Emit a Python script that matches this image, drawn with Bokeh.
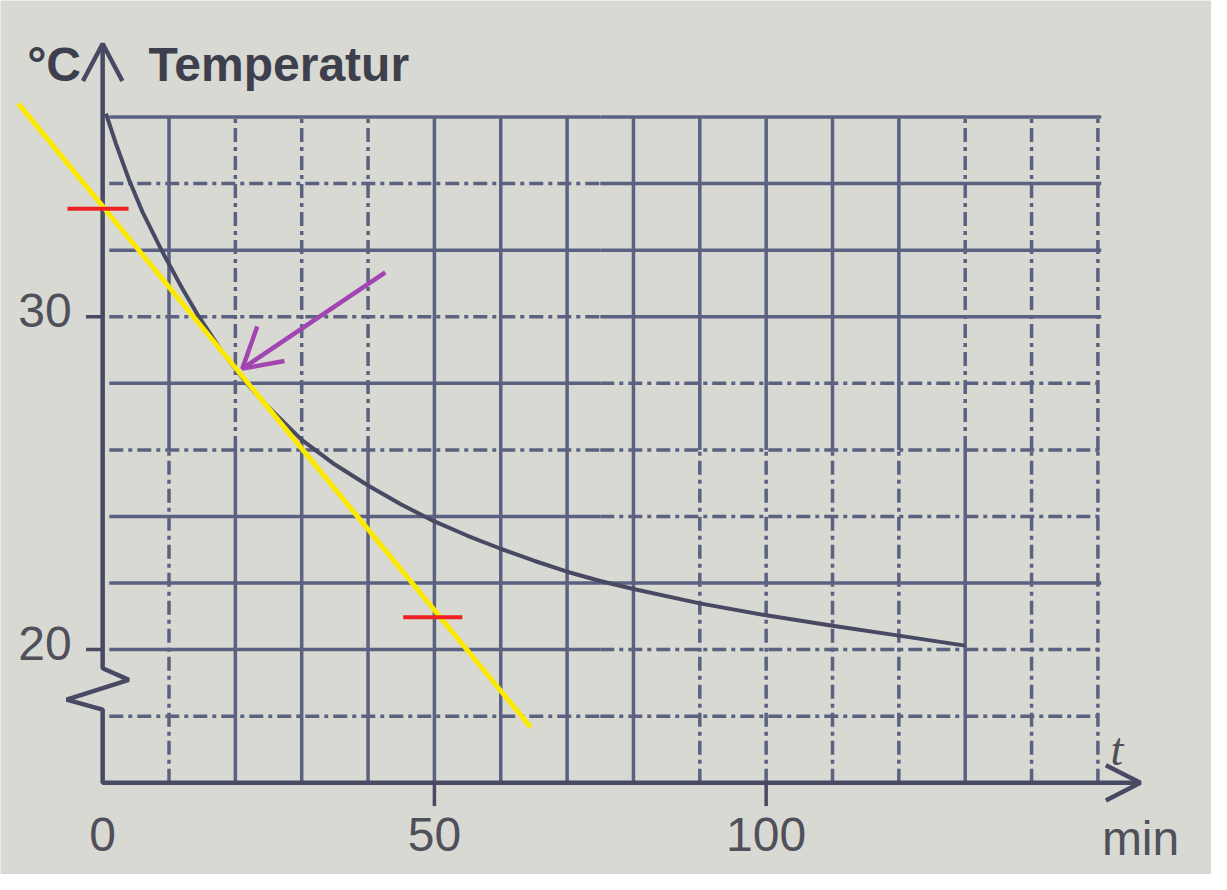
from bokeh.plotting import figure
from bokeh.models import Range1d
from bokeh.embed import file_html
from bokeh.resources import INLINE
from bokeh.core.properties import value

# ---------------- data ----------------
time_min = [0.5, 2, 4, 6, 9, 12, 14.5, 18, 21.5, 25, 30, 35, 40, 45, 50, 55,
            60, 65, 70, 75, 80, 90, 100, 110, 120, 130]
temp_c = [36.1, 35.2, 34.1, 33.15, 31.95, 30.85, 30.0, 28.95, 28.05, 27.28,
          26.3, 25.56, 24.93, 24.36, 23.85, 23.42, 23.03, 22.67, 22.34, 22.06,
          21.82, 21.39, 21.03, 20.72, 20.42, 20.12]

x_ticks = [0, 50, 100]
x_tick_labels = ["0", "50", "100"]
y_ticks = [20, 30]
y_tick_labels = ["20", "30"]

grid_t = [10, 20, 30, 40, 50, 60, 70, 80, 90, 100, 110, 120, 130, 140, 150]
grid_T = [18, 20, 22, 24, 26, 28, 30, 32, 34, 36]

# hand-drawn annotations (tangent, marks, arrow)
tangent_t = [-12.7, 64.5]
tangent_T = [36.4, 17.67]
mark1_t = [-5.3, 3.9]
mark1_T = [33.24, 33.24]
mark2_t = [45.3, 54.2]
mark2_T = [20.97, 20.97]
arrow_shaft_t = [42.6, 21.05]
arrow_shaft_T = [31.33, 28.44]
arrow_head_t = [23.3, 21.05, 27.4]
arrow_head_T = [29.71, 28.44, 28.67]

# styles of the printed grid: s = solid, d = dash-dot
v_style = ["sd", "ds", "ds", "ds", "ss", "ss", "ss", "ss", "sd", "sd", "sd",
           "sd", "ds", "dd", "dd"]          # (upper, lower) half
h_style = ["dd", "sd", "ss", "sd", "dd", "sd", "ds", "ss", "ds", "ss"]  # (left, right)

# ---------------- figure ----------------
BG = "#d9d9d3"
GRID = "#5a6181"
INK = "#474a62"
p = figure(width=1211, height=874, output_backend="svg", toolbar_location=None,
           x_axis_type=None, y_axis_type=None, title=None,
           x_range=Range1d(-15.396, 167.12), y_range=Range1d(13.245, 39.499),
           min_border=0, background_fill_color=BG, border_fill_color=BG,
           outline_line_color=None)

T_bottom, T_mid, T_top = 16, 26, 36
t_left, t_mid, t_right = 1, 75, 150.5

solid = dict(x0=[], y0=[], x1=[], y1=[])
dashed = dict(x0=[], y0=[], x1=[], y1=[])

def add(target, a, b, c, d):
    target["x0"].append(a); target["y0"].append(b)
    target["x1"].append(c); target["y1"].append(d)

for t, st in zip(grid_t, v_style):
    add(solid if st[0] == "s" else dashed, t, T_mid, t, T_top)
    add(solid if st[1] == "s" else dashed, t, T_bottom, t, T_mid)
for T, st in zip(grid_T, h_style):
    add(solid if st[0] == "s" else dashed, t_left, T, t_mid, T)
    add(solid if st[1] == "s" else dashed, t_mid, T, t_right, T)

p.segment(x0="x0", y0="y0", x1="x1", y1="y1", source=solid,
          line_color=GRID, line_width=3.5)
p.segment(x0="x0", y0="y0", x1="x1", y1="y1", source=dashed,
          line_color=GRID, line_width=3.5, line_dash="14 5 4 5")

# axes with break
axis_t = [0, 0, 3.94, -5.43, 0, 0, 156.4]
axis_T = [38.2, 19.44, 19.09, 18.50, 18.2, 16, 16]
p.line(axis_t, axis_T, line_color=INK, line_width=4.5)
p.line([-2.97, 0, 2.97], [37.08, 38.2, 37.08], line_color=INK, line_width=4.5)
p.line([151.2, 156.4, 151.2], [16.53, 16, 15.47], line_color=INK, line_width=4.5)

# ticks
p.segment(x0=[-2.5] * len(y_ticks), y0=y_ticks, x1=[0] * len(y_ticks), y1=y_ticks,
          line_color=INK, line_width=3.5)
p.segment(x0=x_ticks[1:], y0=[16] * 2, x1=x_ticks[1:], y1=[15.3] * 2,
          line_color=INK, line_width=3.5)

# tick labels
LBL = "#4f5059"
p.text(x=x_ticks, y=[16] * len(x_ticks), text=x_tick_labels, text_align="center",
       text_baseline="alphabetic", y_offset=52, text_font=value("Liberation Sans"),
       text_font_size="48px", text_color=LBL)
p.text(x=[0] * len(y_ticks), y=y_ticks, text=y_tick_labels, text_align="right",
       text_baseline="alphabetic", x_offset=-31, y_offset=-6,
       text_font=value("Liberation Sans"), text_font_size="48px", text_color=LBL)

# axis titles
p.text(x=[6.92], y=[37.05], text=["Temperatur"], text_font=value("Liberation Sans"),
       text_font_style="bold", text_font_size="48px", text_color="#3e3f4c",
       text_baseline="alphabetic", y_offset=-18)
p.text(x=[-11.38], y=[37.05], text=["°C"], text_font=value("Liberation Sans"),
       text_font_style="bold", text_font_size="48px", text_color="#3e3f4c",
       text_baseline="alphabetic", y_offset=-18)
p.text(x=[151.9], y=[16.49], text=["t"], text_font=value("Liberation Serif"),
       text_font_style="italic", text_font_size="46px", text_color=LBL,
       text_baseline="alphabetic", y_offset=-17)
p.text(x=[150.6], y=[13.51], text=["min"], text_font=value("Liberation Sans"),
       text_font_size="48px", text_color=LBL, text_baseline="alphabetic",
       y_offset=-27)

# cooling curve
p.line(time_min, temp_c, line_color=INK, line_width=4, line_join="round")

# annotations
p.line(tangent_t, tangent_T, line_color="#fbe900", line_width=5)
p.line(mark1_t, mark1_T, line_color="#ee2222", line_width=4)
p.line(mark2_t, mark2_T, line_color="#ee2222", line_width=4)
p.line(arrow_shaft_t, arrow_shaft_T, line_color="#a145b0", line_width=4.5)
p.line(arrow_head_t, arrow_head_T, line_color="#a145b0", line_width=4.5)

open("out.html", "w").write(file_html(p, INLINE))
